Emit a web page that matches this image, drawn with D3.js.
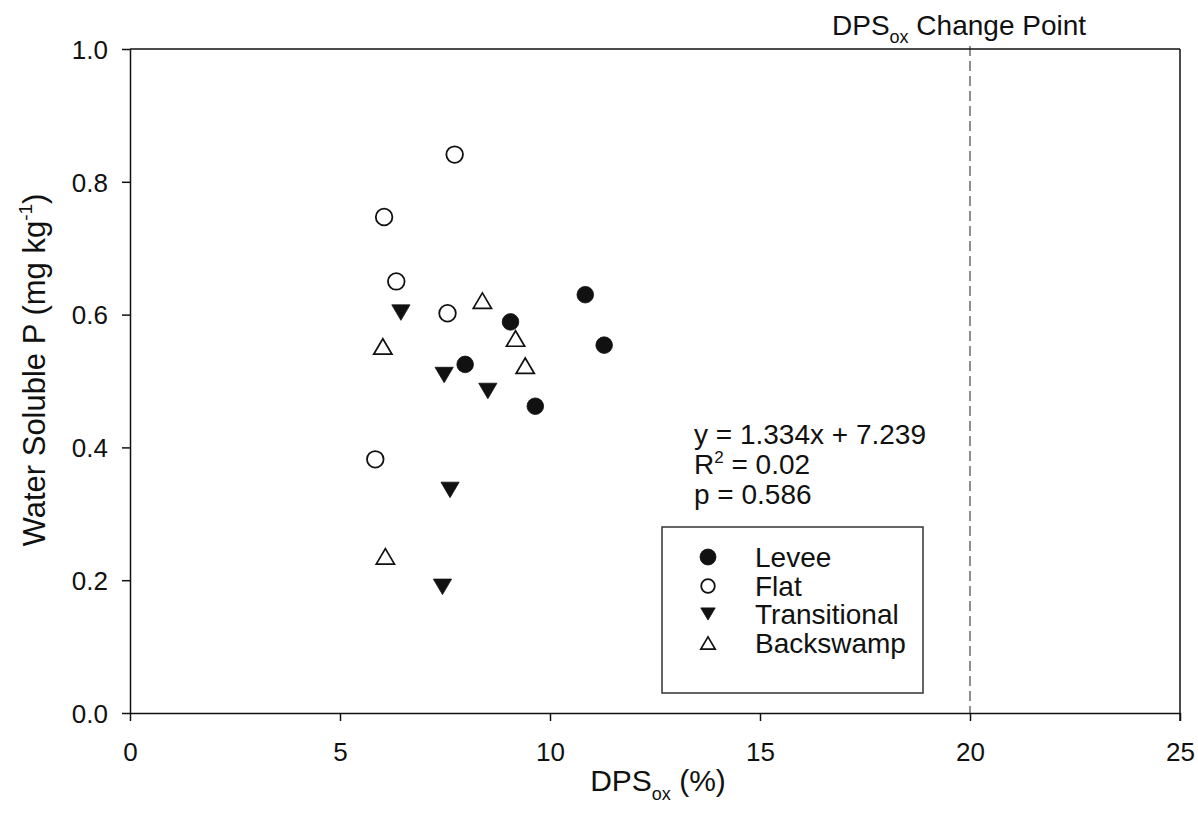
<!DOCTYPE html>
<html>
<head>
<meta charset="utf-8">
<script src="https://cdn.jsdelivr.net/npm/d3@7"></script>
<style>
  html, body { margin: 0; padding: 0; background: #fff; }
  svg { display: block; font-family: "Liberation Sans", Arial, sans-serif; }
</style>
</head>
<body>
<svg id="chart" width="1198" height="824"></svg>
<script>
// DPSox (%) vs water soluble P (mg/kg) for each landscape position
const leveeX = [9.06, 10.84, 11.29, 7.98, 9.65];
const leveeY = [0.589, 0.630, 0.554, 0.525, 0.462];
const flatX = [7.73, 6.05, 6.34, 7.56, 5.84];
const flatY = [0.841, 0.747, 0.650, 0.602, 0.382];
const transX = [6.45, 7.48, 8.52, 7.62, 7.44];
const transY = [0.603, 0.509, 0.485, 0.336, 0.190];
const backX = [8.39, 9.18, 6.02, 9.41, 6.08];
const backY = [0.621, 0.564, 0.552, 0.523, 0.236];

const seriesNames = ["Levee", "Flat", "Transitional", "Backswamp"];
const xTicks = [0, 5, 10, 15, 20, 25];
const yTicks = [0.0, 0.2, 0.4, 0.6, 0.8, 1.0];
const changePoint = 20;
const statLines = ["y = 1.334x + 7.239", "R2 = 0.02", "p = 0.586"];

const svg = d3.select("#chart");
const margin = { left: 130, right: 18, top: 49, bottom: 111 };
const W = 1198, H = 824;

const x = d3.scaleLinear().domain([0, 25]).range([margin.left, W - margin.right]);
const y = d3.scaleLinear().domain([0, 1]).range([H - margin.bottom, margin.top]);

const ink = "#111";

// Marker shapes
function shapePath(kind, r) {
  const p = d3.path();
  const w = r * 1.06, h = r * 0.9;
  if (kind === "down") {
    p.moveTo(-w, -h); p.lineTo(w, -h); p.lineTo(0, h); p.closePath();
  } else {
    p.moveTo(-w, h); p.lineTo(w, h); p.lineTo(0, -h); p.closePath();
  }
  return p;
}
const styles = [
  { kind: "circle", fill: ink, stroke: ink, sw: 0.8 },
  { kind: "circle", fill: "#fff", stroke: ink, sw: 1.8 },
  { kind: "down", fill: ink, stroke: ink, sw: 0.8 },
  { kind: "up", fill: "#fff", stroke: ink, sw: 1.7 }
];

function drawMarker(g, st, cx, cy, r) {
  if (st.kind === "circle") {
    g.append("circle").attr("cx", cx).attr("cy", cy).attr("r", r)
      .attr("fill", st.fill).attr("stroke", st.stroke).attr("stroke-width", st.sw);
  } else {
    g.append("path").attr("d", shapePath(st.kind, r).toString())
      .attr("transform", `translate(${cx},${cy})`)
      .attr("fill", st.fill).attr("stroke", st.stroke)
      .attr("stroke-width", st.sw).attr("stroke-linejoin", "miter");
  }
}

// Change point reference line
svg.append("line")
  .attr("x1", x(changePoint)).attr("x2", x(changePoint))
  .attr("y1", y(1) - 3).attr("y2", y(0))
  .attr("stroke", "#555").attr("stroke-width", 1.3)
  .attr("stroke-dasharray", "10,5");

// Axes
const axisFont = 26;
const yAxis = svg.append("g").attr("transform", `translate(${x(0)},0)`)
  .call(d3.axisLeft(y).tickValues(yTicks).tickFormat(d3.format(".1f")).tickSize(8).tickSizeOuter(0).tickPadding(14));
const xAxis = svg.append("g").attr("transform", `translate(0,${y(0)})`)
  .call(d3.axisBottom(x).tickValues(xTicks).tickFormat(d3.format("d")).tickSize(8).tickSizeOuter(0).tickPadding(22));
[yAxis, xAxis].forEach(a => {
  a.selectAll("path.domain").attr("stroke", ink).attr("stroke-width", 1.5);
  a.selectAll(".tick line").attr("stroke", ink).attr("stroke-width", 1.5);
  a.selectAll(".tick text").attr("fill", ink).style("font-size", axisFont + "px")
    .style("font-family", '"Liberation Sans", Arial, sans-serif');
});
yAxis.selectAll(".tick text").attr("dy", "0.36em");

// Top and right frame lines
svg.append("line").attr("x1", x(0)).attr("x2", x(25)).attr("y1", y(1)).attr("y2", y(1))
  .attr("stroke", ink).attr("stroke-width", 1.5);
svg.append("line").attr("x1", x(25)).attr("x2", x(25)).attr("y1", y(1)).attr("y2", y(0) + 8)
  .attr("stroke", ink).attr("stroke-width", 1.5);

// Data points
const seriesX = [leveeX, flatX, transX, backX];
const seriesY = [leveeY, flatY, transY, backY];
const pts = svg.append("g");
seriesX.forEach((xs, i) => {
  xs.forEach((v, j) => {
    drawMarker(pts, styles[i], x(v), y(seriesY[i][j]), i < 2 ? 8.3 : 8.6);
  });
});

// Axis titles
const title = svg.append("text")
  .attr("transform", `translate(45,370) rotate(-90)`)
  .attr("text-anchor", "middle").attr("fill", ink).style("font-size", "31px");
title.append("tspan").text("Water Soluble P (mg kg");
title.append("tspan").text("-1").attr("dy", -13).style("font-size", "19px");
title.append("tspan").text(")").attr("dy", 13);

const xt = svg.append("text")
  .attr("x", (x(0) + x(25)) / 2 + 3).attr("y", 791)
  .attr("text-anchor", "middle").attr("fill", ink).style("font-size", "30px");
xt.append("tspan").text("DPS");
xt.append("tspan").text("ox").attr("dy", 9).style("font-size", "18px");
xt.append("tspan").text(" (%)").attr("dy", -9);

const ct = svg.append("text")
  .attr("x", 832).attr("y", 35).attr("fill", ink).style("font-size", "28px");
ct.append("tspan").text("DPS");
ct.append("tspan").text("ox").attr("dy", 8).style("font-size", "18px");
ct.append("tspan").text(" Change Point").attr("dy", -8);

// Regression statistics
const statY = [444, 474, 504];
const statFont = "28px";
svg.append("text").attr("x", 694).attr("y", statY[0]).attr("fill", ink).style("font-size", statFont).text(statLines[0]);
const st1 = svg.append("text").attr("x", 694).attr("y", statY[1]).attr("fill", ink).style("font-size", statFont);
st1.append("tspan").text("R");
st1.append("tspan").text("2").attr("dy", -11).style("font-size", "17px");
st1.append("tspan").text(" = 0.02").attr("dy", 11);
svg.append("text").attr("x", 694).attr("y", statY[2]).attr("fill", ink).style("font-size", statFont).text(statLines[2]);

// Legend
const lg = svg.append("g");
lg.append("rect").attr("x", 662).attr("y", 527).attr("width", 261).attr("height", 166)
  .attr("fill", "#fff").attr("stroke", "#333").attr("stroke-width", 1.5);
const legY = [557, 586, 614, 643];
seriesNames.forEach((name, i) => {
  drawMarker(lg, styles[i], 708, legY[i], i === 0 ? 8 : 6.8);
  lg.append("text").attr("x", 755).attr("y", legY[i]).attr("dy", "0.36em")
    .attr("fill", ink).style("font-size", "28px").text(name);
});
</script>
</body>
</html>
